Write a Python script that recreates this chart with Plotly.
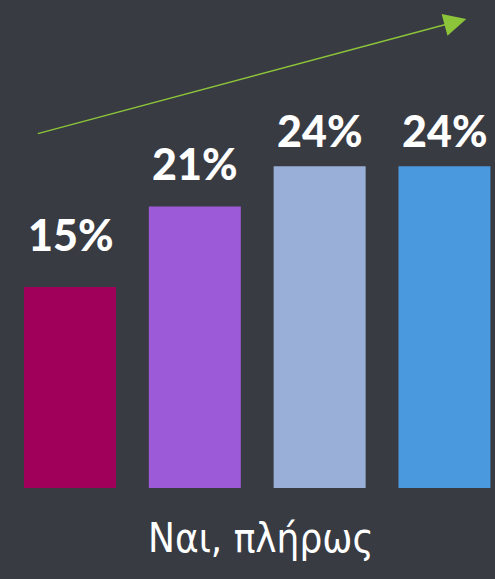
"""Bar chart: 'Ναι, πλήρως' share across four groups, dark theme."""

import plotly.graph_objects as go

# data
groups = ["g1", "g2", "g3", "g4"]
values = [15, 21, 24, 24]
value_labels = ["15%", "21%", "24%", "24%"]
bar_colors = ["#a1005a", "#9d5ad8", "#9aafd8", "#4a98de"]
group_title = "Ναι, πλήρως"

BG = "#383b42"

fig = go.Figure()
fig.add_trace(go.Bar(
    x=list(range(len(groups))),
    y=values,
    width=0.737,
    marker=dict(color=bar_colors, line=dict(width=0)),
    hoverinfo="skip",
))

# value labels above bars (first one sits a bit higher in the original)
label_shift = [32, 22, 15, 15]
for i, (v, lab) in enumerate(zip(values, value_labels)):
    fig.add_annotation(
        x=i, y=v, text=lab, showarrow=False,
        yanchor="bottom", yshift=label_shift[i] - 7,
        font=dict(family="Lato", size=43, color="white", weight=900),
    )

# trend arrow
fig.add_annotation(
    xref="paper", yref="paper", x=0.942, y=0.961,
    axref="pixel", ayref="pixel", ax=-430, ay=115,
    text="", showarrow=True,
    arrowhead=2, arrowsize=3, arrowwidth=1.5, arrowcolor="#8cc43a",
)

# group caption
fig.add_annotation(
    xref="paper", yref="paper", x=0.527, y=-0.102,
    text=group_title, showarrow=False, yanchor="middle",
    font=dict(family="DejaVu Sans Condensed, Liberation Sans Narrow, Roboto",
              size=40, color="white"),
)

fig.update_layout(
    width=495, height=579,
    margin=dict(l=0, r=0, t=0, b=91),
    paper_bgcolor=BG, plot_bgcolor=BG,
    showlegend=False,
    xaxis=dict(range=[-0.561, 3.405], visible=False, fixedrange=True),
    yaxis=dict(range=[0, 36.4], visible=False, fixedrange=True),
)

fig.write_html(
    "out.html",
    config={"displayModeBar": False},
    post_script="document.body.style.margin='0';document.body.style.overflow='hidden';",
)
